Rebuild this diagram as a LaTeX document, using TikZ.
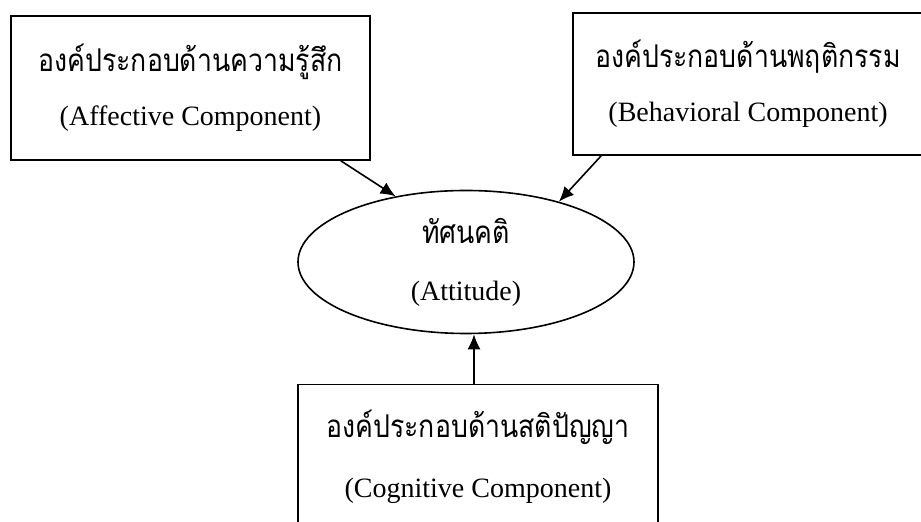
\documentclass[tikz,border=0pt]{standalone}
\usepackage{fontspec}
\setmainfont{Liberation Serif}
\newfontfamily\thaifont[Script=Thai,Scale=1.12,FakeStretch=0.85]{Loma}
\usetikzlibrary{arrows.meta,shapes.geometric}

\tikzset{
	comp/.style={draw,line width=.8pt,align=center,inner sep=0pt,font=\fontsize{14}{27}\selectfont},
	arr/.style={line width=.8pt,-{Latex[length=7.5pt,width=6.5pt]}}
}

\begin{document}
\begin{tikzpicture}[x=.5pt,y=-.5pt]
				
				\clip (0,0) rectangle (921,522);
				
				% the three components
				\node[comp,minimum width=179.5pt,minimum height=72pt] (affect) at (190.5,88) {{\thaifont องค์ประกอบด้านความรู้สึก}\\(Affective Component)};
				\node[comp,minimum width=175pt,minimum height=71pt] (behave) at (748,84) {{\thaifont องค์ประกอบด้านพฤติกรรม}\\(Behavioral Component)};
				\node[comp,minimum width=180pt,minimum height=72.5pt] (cogn) at (478,457) {{\thaifont องค์ประกอบด้านสติปัญญา}\\[3pt](Cognitive Component)};
				
				\node[comp,ellipse,minimum width=168pt,minimum height=71.5pt] (attitude) at (466,262) {{\thaifont ทัศนคติ}\\[1.5pt](Attitude)};
				
				\draw[arr] ([xshift=-15pt]affect.south east) -- (attitude.137);
				\draw[arr] ([xshift=14.5pt]behave.south west) -- (attitude.33);
				\draw[arr] ([xshift=-2pt]cogn.north) -- ([xshift=-2pt]cogn.north |- attitude.south);
			\end{tikzpicture}
\end{document}
